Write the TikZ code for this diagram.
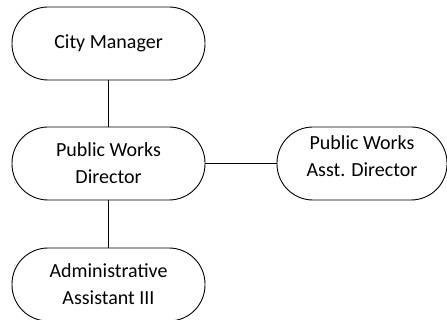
\documentclass[tikz,border=0pt]{standalone}
\usepackage{fontspec}
\setmainfont{Carlito}
\begin{document}
\begin{tikzpicture}[x=1pt,y=1pt,
  pill/.style={draw=black, line width=0.9pt, rounded corners=36pt, minimum height=73pt, inner sep=0pt, align=center, font=\fontsize{20}{27}\selectfont},
  conn/.style={draw=black, line width=1.8pt}]
\useasboundingbox (0,0) rectangle (447,-320);
\node[pill, minimum width=193pt] (cm) at (108.5,-43.5) {City Manager};
\node[pill, minimum width=193pt] (pwd) at (108.5,-163.5) {Public Works\\Director};
\node[pill, minimum width=193pt] (aa) at (108.5,-284.5) {Administrative\\Assistant III};
\node[pill, minimum width=170pt] (asst) at (362,-163.5) {};
\node[align=center, inner sep=0pt, font=\fontsize{20}{27}\selectfont] (asstt) at ([yshift=7pt]asst.center) {Public Works\\Asst. Director};
\draw[conn] (cm.south) -- (pwd.north);
\draw[conn] (pwd.south) -- (aa.north);
\draw[conn] (pwd.east) -- (asst.west);
\end{tikzpicture}
\end{document}
